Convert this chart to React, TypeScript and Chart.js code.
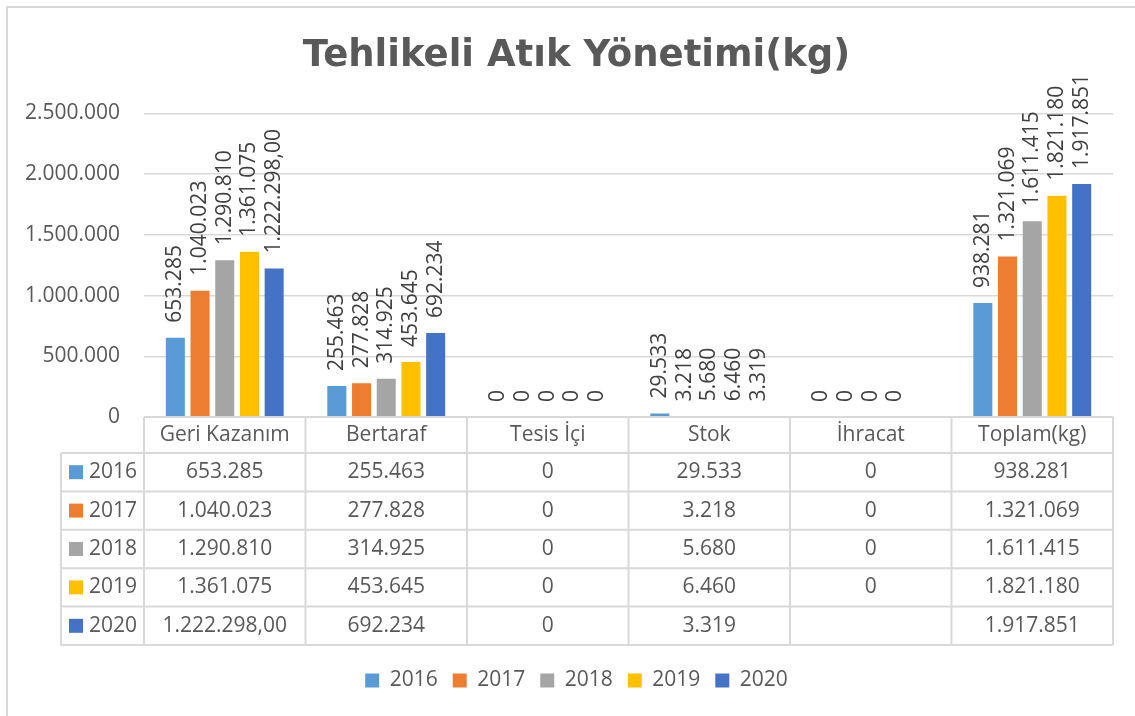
import React, { useEffect, useRef } from "react";
import { Chart, registerables } from "chart.js";

Chart.register(...registerables);

const categories = ["Geri Kazanım", "Bertaraf", "Tesis İçi", "Stok", "İhracat", "Toplam(kg)"];
const years = ["2016", "2017", "2018", "2019", "2020"];
const values2016 = [653285, 255463, 0, 29533, 0, 938281];
const values2017 = [1040023, 277828, 0, 3218, 0, 1321069];
const values2018 = [1290810, 314925, 0, 5680, 0, 1611415];
const values2019 = [1361075, 453645, 0, 6460, 0, 1821180];
const values2020 = [1222298, 692234, 0, 3319, null, 1917851];
// decimals shown in the source for each value (only one cell shows ",00")
const decimals2016 = [0, 0, 0, 0, 0, 0];
const decimals2017 = [0, 0, 0, 0, 0, 0];
const decimals2018 = [0, 0, 0, 0, 0, 0];
const decimals2019 = [0, 0, 0, 0, 0, 0];
const decimals2020 = [2, 0, 0, 0, 0, 0];
const yTickValues = [0, 500000, 1000000, 1500000, 2000000, 2500000];
const yStep = 500000;

const seriesValues = [values2016, values2017, values2018, values2019, values2020];
const seriesDecimals = [decimals2016, decimals2017, decimals2018, decimals2019, decimals2020];
const colors = ["#5B9BD5", "#ED7D31", "#A5A5A5", "#FFC000", "#4472C4"];

const TEXT = "#595959";
const LINE = "#d9d9d9";
const FONT = '"Open Sans", "DejaVu Sans", sans-serif';
const TICK_SIZE = 21;

function fmtTR(v: number, dec: number = 0): string {
  const s = Math.abs(v).toFixed(dec);
  const [ip, fp] = s.split(".");
  const dotted = ip.replace(/\B(?=(\d{3})+(?!\d))/g, ".");
  return (v < 0 ? "-" : "") + dotted + (fp ? "," + fp : "");
}

const bgPlugin = {
  id: "bgBorder",
  beforeDraw(chart: any) {
    const { ctx, width, height } = chart;
    ctx.save();
    ctx.fillStyle = "#ffffff";
    ctx.fillRect(0, 0, width, height);
    ctx.strokeStyle = LINE;
    ctx.lineWidth = 2;
    ctx.strokeRect(7, 7, width + 20, height + 20);
    ctx.restore();
  },
};

const labelPlugin = {
  id: "barLabels",
  afterDatasetsDraw(chart: any) {
    const { ctx } = chart;
    ctx.save();
    ctx.font = `21px ${FONT}`;
    ctx.fillStyle = "#404040";
    ctx.textAlign = "left";
    ctx.textBaseline = "middle";
    chart.data.datasets.forEach((ds: any, di: number) => {
      const meta = chart.getDatasetMeta(di);
      meta.data.forEach((el: any, i: number) => {
        const v = ds.data[i];
        if (v == null) return;
        ctx.save();
        ctx.translate(el.x, el.y - 15);
        ctx.rotate(-Math.PI / 2);
        ctx.fillText(fmtTR(v, ds.decimals[i]), 0, 0);
        ctx.restore();
      });
    });
    ctx.restore();
  },
};

const tablePlugin = {
  id: "dataTable",
  afterDraw(chart: any) {
    const { ctx, chartArea } = chart;
    const xs = chart.scales.x;
    const left = chartArea.left;
    const right = chartArea.right;
    const n = categories.length;
    const cw = (right - left) / n;
    const top = chartArea.bottom;
    const headerH = 36;
    const rowH = 38.4;
    const keyLeft = 61;
    const rowsTop = top + headerH;
    const bottom = rowsTop + rowH * years.length;
    ctx.save();
    ctx.strokeStyle = LINE;
    ctx.lineWidth = 2;
    ctx.beginPath();
    ctx.moveTo(left, top);
    ctx.lineTo(right, top);
    for (let r = 0; r <= years.length; r++) {
      const y = rowsTop + r * rowH;
      ctx.moveTo(keyLeft, y);
      ctx.lineTo(right, y);
    }
    for (let c = 0; c <= n; c++) {
      const xx = left + c * cw;
      ctx.moveTo(xx, top);
      ctx.lineTo(xx, bottom);
    }
    ctx.moveTo(keyLeft, rowsTop);
    ctx.lineTo(keyLeft, bottom);
    ctx.stroke();

    ctx.font = `21px ${FONT}`;
    ctx.fillStyle = TEXT;
    ctx.textAlign = "center";
    ctx.textBaseline = "middle";
    categories.forEach((c, i) => ctx.fillText(c, xs.getPixelForValue(i), top + headerH / 2));
    chart.data.datasets.forEach((ds: any, r: number) => {
      const cy = rowsTop + r * rowH + rowH / 2;
      ctx.fillStyle = ds.backgroundColor;
      ctx.fillRect(69, cy - 7, 14, 14);
      ctx.fillStyle = TEXT;
      ctx.textAlign = "left";
      ctx.fillText(ds.label, 89, cy);
      ctx.textAlign = "center";
      ds.data.forEach((v: number | null, i: number) => {
        if (v == null) return;
        ctx.fillText(fmtTR(v, ds.decimals[i]), xs.getPixelForValue(i), cy);
      });
    });
    ctx.restore();
  },
};

export default function App() {
  const ref = useRef<HTMLCanvasElement | null>(null);
  useEffect(() => {
    if (!ref.current) return;
    // measure widest y tick label so the mirrored labels end at a fixed x
    const mctx = document.createElement("canvas").getContext("2d") as CanvasRenderingContext2D;
    mctx.font = `normal ${TICK_SIZE}px ${FONT}`;
    const widest = Math.max(...yTickValues.map((v) => mctx.measureText(fmtTR(v)).width));
    const axisRight = 144;
    const labelRight = 120;
    const chart = new Chart(ref.current, {
      type: "bar",
      data: {
        labels: categories,
        datasets: years.map((y, i) => ({
          label: y,
          data: seriesValues[i],
          decimals: seriesDecimals[i],
          backgroundColor: colors[i],
          borderWidth: 0,
          categoryPercentage: 0.765,
          barPercentage: 0.77,
        })) as any,
      },
      options: {
        animation: false,
        responsive: false,
        events: [],
        layout: { padding: { left: 40, right: 22, top: 0, bottom: 15 } },
        plugins: {
          tooltip: { enabled: false },
          title: {
            display: true,
            text: "Tehlikeli Atık Yönetimi(kg)",
            color: TEXT,
            font: { family: '"DejaVu Sans", sans-serif', size: 37, weight: "bold" },
            padding: { top: 34, bottom: 35 },
          },
          legend: {
            position: "bottom",
            labels: {
              color: TEXT,
              font: { family: FONT, size: 21 },
              boxWidth: 14,
              boxHeight: 14,
              padding: 15,
            },
          },
        },
        scales: {
          x: {
            grid: { display: false },
            border: { display: false },
            ticks: { display: false },
            afterFit: (scale: any) => {
              scale.height = 238;
            },
          },
          y: {
            min: yTickValues[0],
            max: yTickValues[yTickValues.length - 1],
            border: { display: false },
            grid: { color: LINE, lineWidth: 1.5, drawTicks: false },
            ticks: {
              stepSize: yStep,
              mirror: true,
              crossAlign: "far",
              padding: labelRight - axisRight - widest,
              color: TEXT,
              font: { family: FONT, size: TICK_SIZE },
              callback: (v: any) => fmtTR(Number(v)),
            },
            afterFit: (scale: any) => {
              scale.width = axisRight - 40;
            },
          },
        },
      },
      plugins: [bgPlugin, labelPlugin, tablePlugin],
    });
    return () => chart.destroy();
  }, []);
  return (
    <div style={{ position: "fixed", left: 0, top: 0, width: 1135, height: 716 }}>
      <canvas ref={ref} width={1135} height={716} style={{ display: "block" }} />
    </div>
  );
}
